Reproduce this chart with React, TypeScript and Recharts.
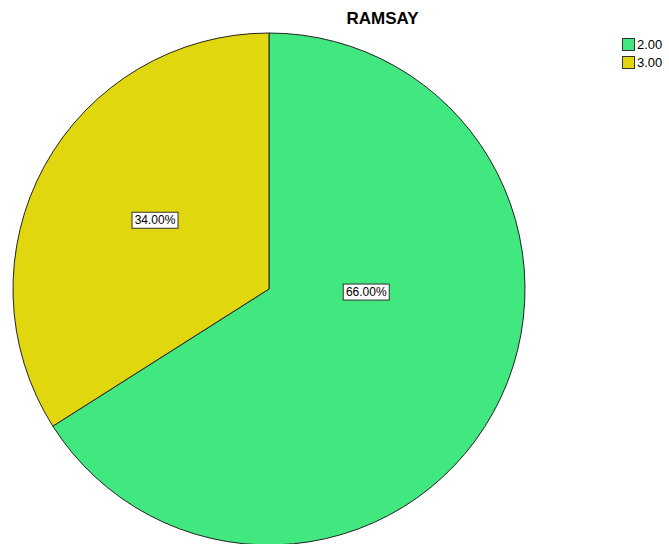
import { PieChart, Pie, Cell, Legend } from 'recharts';

// RAMSAY score distribution (percent of cases)
const categories = ['2.00', '3.00'];
const percents = [66, 34];
const colors = ['#40E87F', '#E1D70F'];
const title = 'RAMSAY';

const data = categories.map((name, i) => ({ name, value: percents[i] }));

// SPSS doesn't put labels on the centroid; nudge each one (radius fraction, angle shift in deg)
const labelPlacement = [
  { r: 0.38, shift: 27 },
  { r: 0.52, shift: -2.3 },
];

const RAD = Math.PI / 180;

function PctLabel(props: any) {
  const { cx, cy, midAngle, outerRadius, value, index } = props;
  const p = labelPlacement[index] ?? { r: 0.5, shift: 0 };
  const a = (midAngle + p.shift) * RAD;
  const x = cx + outerRadius * p.r * Math.cos(a);
  const y = cy - outerRadius * p.r * Math.sin(a);
  const text = `${Number(value).toFixed(2)}%`;
  return (
    <g>
      <rect x={x - 23} y={y - 8} width={46} height={16} fill="#fff" stroke="#333" strokeWidth={1} />
      <text x={x} y={y + 4} textAnchor="middle" fontSize={12} fill="#000" fontFamily="'Liberation Sans', Arial, sans-serif">
        {text}
      </text>
    </g>
  );
}

function LegendBox() {
  return (
    <div style={{ fontFamily: "'Liberation Sans', Arial, sans-serif", fontSize: 13, color: '#000' }}>
      {data.map((d, i) => (
        <div key={d.name} style={{ display: 'flex', alignItems: 'center', height: 18 }}>
          <span
            style={{
              width: 11,
              height: 11,
              background: colors[i],
              border: '1px solid #333',
              marginRight: 2,
              display: 'inline-block',
            }}
          />
          <span>{d.name}</span>
        </div>
      ))}
    </div>
  );
}

export default function App() {
  return (
    <div style={{ position: 'fixed', left: 0, top: 0, width: 669, height: 544, background: '#fff', overflow: 'hidden' }}>
      <div
        style={{
          position: 'absolute',
          left: 0,
          width: 765,
          top: 9,
          textAlign: 'center',
          fontFamily: "'Liberation Sans', Arial, sans-serif",
          fontWeight: 'bold',
          fontSize: 17,
          color: '#000',
        }}
      >
        {title}
      </div>
      <PieChart width={669} height={544} margin={{ top: 0, right: 0, bottom: 0, left: 0 }}>
        <Pie
          data={data}
          dataKey="value"
          nameKey="name"
          cx={269}
          cy={289}
          outerRadius={256}
          startAngle={90}
          endAngle={-270}
          stroke="#222"
          strokeWidth={1}
          label={PctLabel}
          labelLine={false}
          isAnimationActive={false}
        >
          {data.map((d, i) => (
            <Cell key={d.name} fill={colors[i]} />
          ))}
        </Pie>
        <Legend
          content={<LegendBox />}
          wrapperStyle={{ position: 'absolute', left: 622, top: 35, width: 60 }}
        />
      </PieChart>
    </div>
  );
}
